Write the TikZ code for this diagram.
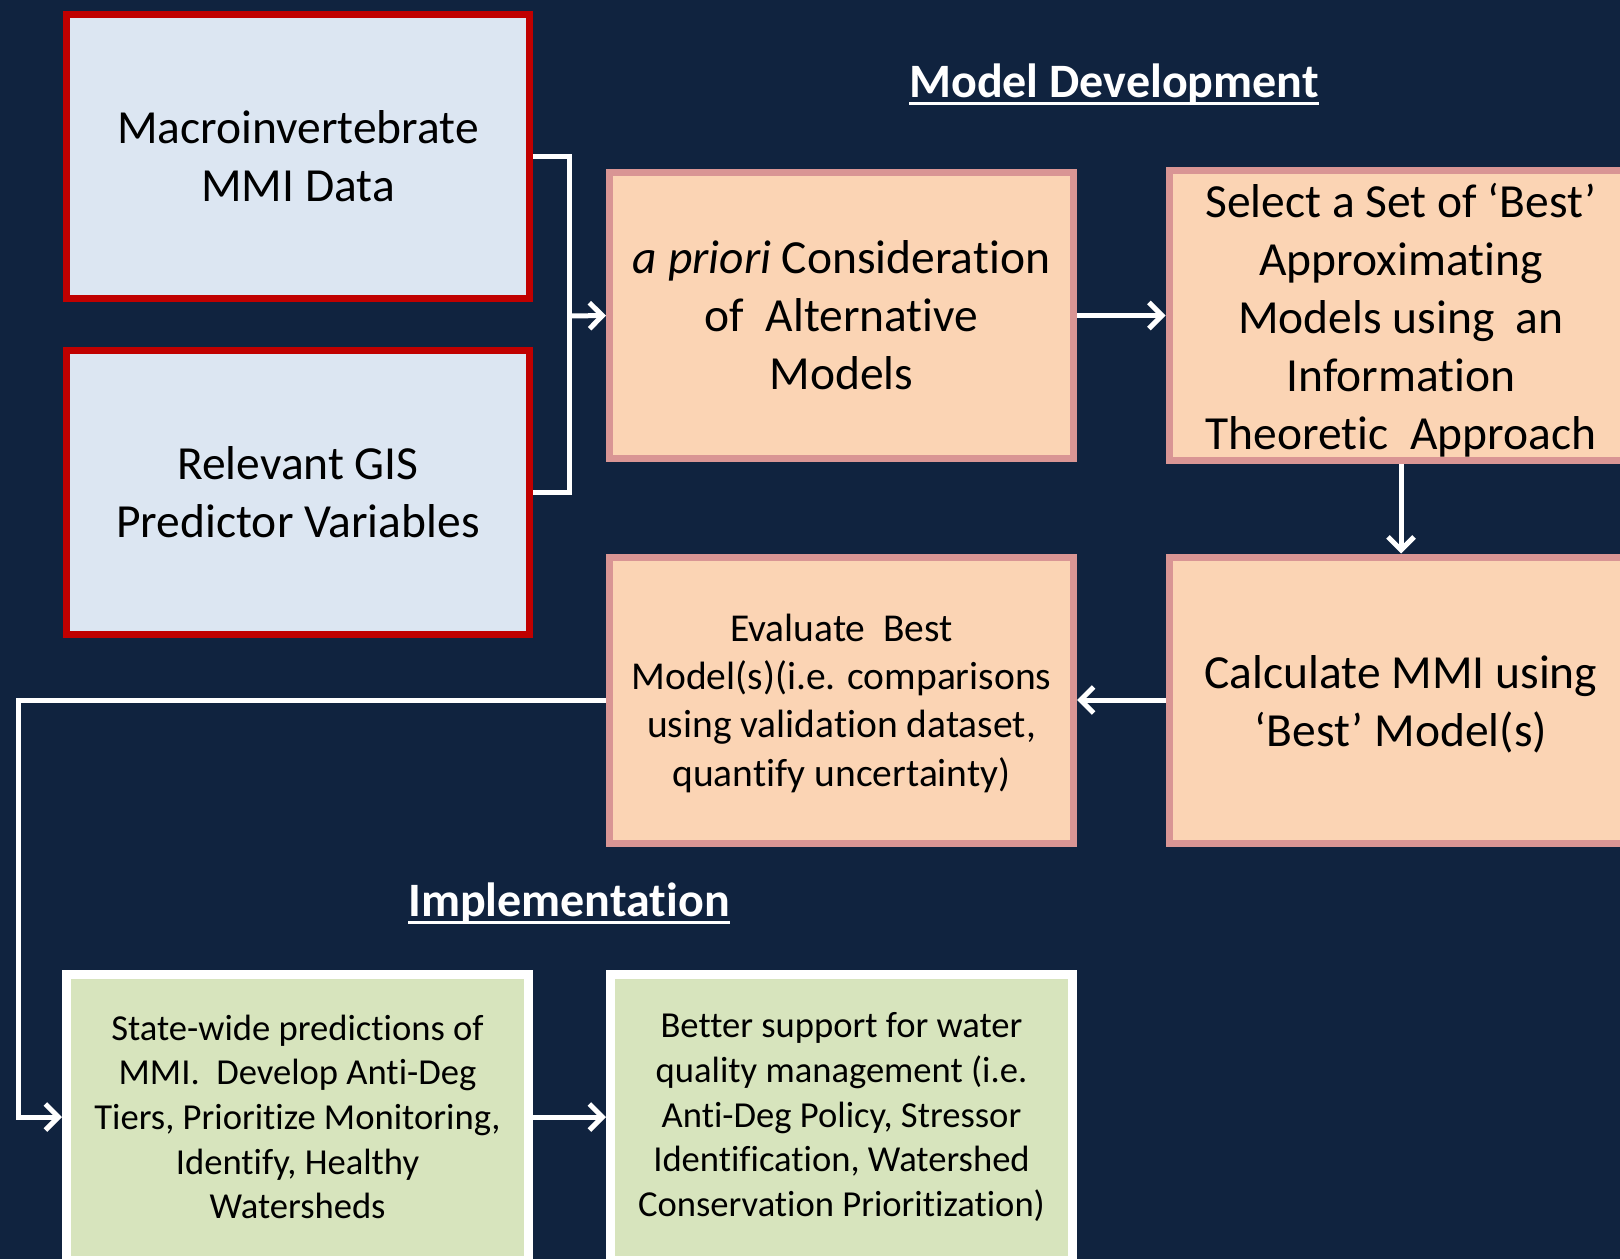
\documentclass[tikz,border=0pt]{standalone}
\usepackage{fontspec}
\setmainfont{Carlito}[Ligatures=NoCommon]
\usetikzlibrary{arrows.meta}

\definecolor{navy}{HTML}{10233F}
\definecolor{boxblue}{HTML}{DCE6F2}
\definecolor{boxred}{HTML}{C00000}
\definecolor{peach}{HTML}{FBD4B4}
\definecolor{peachedge}{HTML}{D99594}
\definecolor{sage}{HTML}{D7E4BD}

% raises the first line of a box so its text sits a little lower
\newcommand{\toprule}[1]{\rule{0pt}{#1}}

\begin{document}
\begin{tikzpicture}[x=1pt, y=-1pt,
    databox/.style={draw=boxred, fill=boxblue, line width=7pt, minimum width=463pt, minimum height=284pt, align=center, font=\fontsize{47.5}{58}\selectfont},
    modelbox/.style={draw=peachedge, fill=peach, line width=7pt, minimum width=464pt, minimum height=286pt, align=center, font=\fontsize{47.5}{58}\selectfont},
    usebox/.style={draw=white, fill=sage, line width=9pt, minimum width=462pt, minimum height=286pt, align=center, font=\fontsize{36.6}{44.7}\selectfont},
    heading/.style={text=white, anchor=base, inner xsep=0pt, font=\fontsize{48}{56}\selectfont\bfseries},
    underline/.style={draw=white, line width=3pt},
    flow/.style={draw=white, line width=5pt, -{Straight Barb[length=13pt, width=26pt]}}
]
    % Page and background
    \useasboundingbox (0,0) rectangle (1620,1259);
    \fill[navy] (0,0) rectangle (1620,1259);

    % Section headings, underlined
    \node[heading] (devtitle) at (1114,97) {Model Development};
    \node[heading] (impltitle) at (569,916) {Implementation};
    \draw[underline] ([yshift=-6.5pt]devtitle.base west) -- ([yshift=-6.5pt]devtitle.base east);
    \draw[underline] ([yshift=-6.5pt]impltitle.base west) -- ([yshift=-6.5pt]impltitle.base east);

    % Input data boxes
    \node[databox] (macro) at (298,156) {Macroinvertebrate\\MMI Data};
    \node[databox] (gis) at (298,492) {Relevant GIS\\Predictor Variables};

    % Model development steps
    \node[modelbox] (apriori) at (841.5,315.5) {\textit{a priori} Consideration\\of\ \ Alternative\\Models};
    \node[modelbox] (select) at (1401,315.5) {\toprule{44pt}Select a Set of ‘Best’\\Approximating\\Models using\ \ an\\Information\\Theoretic\ \ Approach};
    \node[modelbox] (calc) at (1401,700) {\toprule{42pt}Calculate MMI using\\‘Best’ Model(s)};
    \node[modelbox, font=\fontsize{39.5}{48.2}\selectfont] (eval) at (841.5,700) {\toprule{34pt}Evaluate\ \ Best\\Model(s)(i.e. comparisons\\using validation dataset,\\quantify uncertainty)};

    % Implementation boxes
    \node[usebox] (state) at (297.5,1117) {State-wide predictions of\\MMI.\ \ Develop Anti-Deg\\Tiers, Prioritize Monitoring,\\Identify, Healthy\\Watersheds};
    \node[usebox] (better) at (841.5,1117) {Better support for water\\quality management (i.e.\\Anti-Deg Policy, Stressor\\Identification, Watershed\\Conservation Prioritization)};

    % Bracket joining the two inputs
    \coordinate (join) at (569,316);
    \draw[white, line width=5pt] (macro.east) -| (join) |- (gis.east);
    \draw[flow] (join) -- (apriori.west);

    % Arrows between the steps
    \draw[flow] (apriori.east) -- (select.west);
    \draw[flow] (select.south) -- (calc.north);
    \draw[flow] (calc.west) -- (eval.east);

    % Feedback line down to implementation
    \coordinate (back) at (18,700);
    \draw[flow] (eval.west) -- (back) |- (state.west);
    \draw[flow] (state.east) -- (better.west);
\end{tikzpicture}
\end{document}
